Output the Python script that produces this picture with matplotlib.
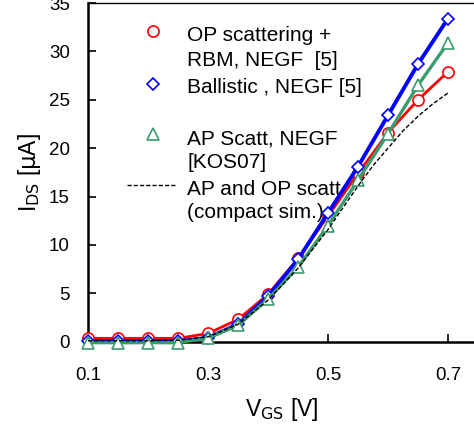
import matplotlib
matplotlib.use("Agg")
import matplotlib.pyplot as plt
from matplotlib.lines import Line2D

plt.rcParams['font.family'] = ['Liberation Sans', 'DejaVu Sans']

# gate voltage (V)
vgs = [0.1, 0.15, 0.2, 0.25, 0.3, 0.35, 0.4, 0.45, 0.5, 0.55, 0.6, 0.65, 0.7]

# drain current (uA) for each simulation
op_rbm = [0.35, 0.35, 0.35, 0.35, 0.85, 2.3, 4.9, 8.6, 13.0, 17.4, 21.6, 25.0, 27.9]
ballistic = [0.05, 0.05, 0.05, 0.05, 0.4, 1.8, 4.7, 8.5, 13.3, 18.1, 23.4, 28.7, 33.4]
ap_scatt = [-0.1, -0.1, -0.1, -0.1, 0.4, 1.7, 4.4, 7.7, 12.0, 16.7, 21.5, 26.5, 30.9]

# compact model curve
vgs_compact = [0.1, 0.15, 0.2, 0.25, 0.3, 0.35, 0.4, 0.45, 0.5, 0.55, 0.575,
               0.6, 0.625, 0.65, 0.675, 0.7]
compact = [0.1, 0.1, 0.1, 0.15, 0.5, 1.8, 4.3, 7.6, 11.6, 16.1, 18.2,
           20.0, 21.8, 23.3, 24.6, 25.7]

green = '#3c9b6e'

fig = plt.figure(figsize=(4.74, 4.32), dpi=100)
ax = fig.add_axes([0.1857, 0.209, 0.8165, 0.784])

ax.plot(vgs, op_rbm, color='red', lw=2, marker='o', ms=8, mfc='white',
        mec='red', mew=1.2, clip_on=False, zorder=3)
ax.plot(vgs, ballistic, color='blue', lw=2.8, marker='D', ms=6.5, mfc='white',
        mec='blue', mew=1.2, clip_on=False, zorder=4)
ax.plot(vgs, ap_scatt, color=green, lw=2.4, marker='^', ms=8, mfc='white',
        mec=green, mew=1.2, clip_on=False, zorder=5)
ax.plot(vgs_compact, compact, color='black', lw=1, ls=(0, (3, 1.5)),
        clip_on=False, zorder=6)

ax.set_xlim(0.1, 0.745)
ax.set_ylim(0, 35)
ax.set_xticks([0.1, 0.3, 0.5, 0.7])
ax.set_xticklabels(['0.1', '0.3', '0.5', '0.7'])
ax.set_yticks(range(0, 36, 5))
ax.tick_params(direction='in', length=6, width=1.2, labelsize=13.5)
ax.tick_params(axis='x', pad=18)
ax.tick_params(axis='y', pad=13)
for s in ['left', 'bottom']:
    ax.spines[s].set_linewidth(1.8)
ax.spines['top'].set_linewidth(1.0)
ax.spines['right'].set_visible(False)

ax.set_xlabel(r'V$_{\mathrm{GS}}$ [V]', fontsize=16.5, labelpad=9)
ax.set_ylabel(r'I$_{\mathrm{DS}}$ [$\mathrm{\mu}$A]', fontsize=16.5, labelpad=4)

# hand-placed legend (markers aligned to first text line)
tr = ax.transAxes
def ax_xy(px, py):
    x0, x1 = 88, 88 + 0.645 * 600
    return (px - x0) / (x1 - x0), (341.7 - py) / (341.7 - 3)

legend_rows = [
    ('o', 'red', 8, 31, ['OP scattering +', 'RBM, NEGF  [5]'], [33, 58]),
    ('D', 'blue', 6.5, 84, ['Ballistic , NEGF [5]'], [85]),
    ('^', green, 8, 134, ['AP Scatt, NEGF', '[KOS07]'], [137, 160]),
]
for marker, color, ms, py, lines, ys in legend_rows:
    x, y = ax_xy(153, py)
    ax.add_line(Line2D([x], [y], transform=tr, ls='none', marker=marker,
                       ms=ms, mfc='white', mec=color, mew=1.2))
    for line, ly in zip(lines, ys):
        tx, ty = ax_xy(187, ly)
        ax.text(tx, ty, line, transform=tr, fontsize=15, va='center_baseline')

x0, y0 = ax_xy(127, 185)
x1, _ = ax_xy(177, 185)
ax.add_line(Line2D([x0, x1], [y0, y0], transform=tr, color='black', lw=1,
                   ls=(0, (3, 1.5))))
for line, ly in zip(['AP and OP scatt', '(compact sim.)'], [187, 210]):
    tx, ty = ax_xy(187, ly)
    ax.text(tx, ty, line, transform=tr, fontsize=15, va='center_baseline')

fig.savefig('out.png', dpi=100)
